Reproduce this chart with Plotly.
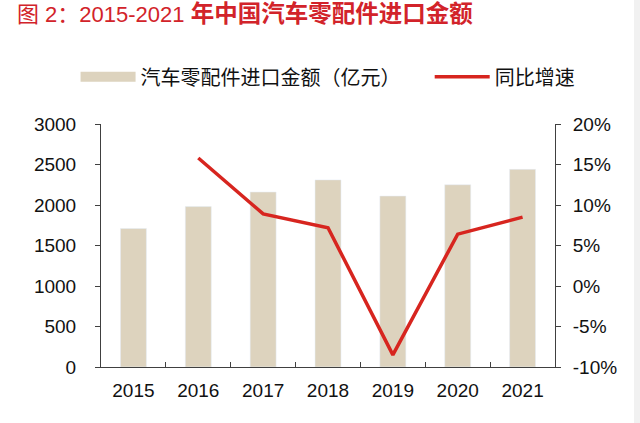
import plotly.graph_objects as go

# 2015-2021 auto parts imports (100m yuan) and YoY growth
years = ["2015", "2016", "2017", "2018", "2019", "2020", "2021"]
import_value = [1710, 1980, 2160, 2310, 2110, 2250, 2440]
yoy_growth = [None, 0.158, 0.089, 0.072, -0.085, 0.064, 0.085]

pct_ticks = [-0.10, -0.05, 0, 0.05, 0.10, 0.15, 0.20]
pct_labels = ["-10%", "-5%", "0%", "5%", "10%", "15%", "20%"]

bar_name = "汽车零配件进口金额（亿元）"
line_name = "同比增速"

BEIGE = "#ddd3be"
RED = "#d7251f"
AXIS = "#404040"
FONT = "Liberation Sans, Arial, Noto Sans CJK SC"

fig = go.Figure()

fig.add_trace(go.Bar(x=years, y=import_value, name=bar_name,
                     marker_color=BEIGE, showlegend=False))
fig.add_trace(go.Scatter(x=years, y=yoy_growth, name=line_name, yaxis="y2",
                         mode="lines", line=dict(color=RED, width=3.5),
                         showlegend=False))

# legend entries: wide flat swatches like the original, one legend each
fig.add_trace(go.Scatter(x=[None], y=[None], name=bar_name, mode="lines",
                         line=dict(color=BEIGE, width=10), legend="legend"))
fig.add_trace(go.Scatter(x=[None], y=[None], name=line_name, mode="lines",
                         line=dict(color=RED, width=3.5), legend="legend2"))

legend_style = dict(orientation="h", xanchor="left", y=1.194, yanchor="middle",
                    font=dict(family=FONT, size=20, color="#111111"),
                    itemwidth=55, bgcolor="rgba(0,0,0,0)")

fig.update_layout(
    width=640, height=423,
    margin=dict(l=101, r=85, t=124, b=56),
    paper_bgcolor="white", plot_bgcolor="white",
    font=dict(family=FONT, size=19, color="#111111"),
    bargap=0.6,
    title=dict(text="图 2：2015-2021 "
                    "<b><span style='font-size:23.5px'>年中国汽车零配件进口金额</span></b>",
               xref="container", x=17 / 640, xanchor="left",
               yref="container", y=1 - 14 / 423, yanchor="middle",
               font=dict(family=FONT, size=22, color="#d2232a")),
    legend=dict(x=-0.056, **legend_style),
    legend2=dict(x=0.724, **legend_style),
    xaxis=dict(type="category", showline=True, linecolor=AXIS, linewidth=1,
               ticks="inside", tickson="boundaries", ticklen=5, tickcolor=AXIS,
               showgrid=False, ticklabelstandoff=6),
    yaxis=dict(range=[0, 3000], dtick=500, showline=True, linecolor=AXIS,
               linewidth=1, ticks="outside", ticklen=5, tickcolor=AXIS,
               showgrid=False, zeroline=False, ticklabelstandoff=15),
    yaxis2=dict(range=[-0.10, 0.20], tickvals=pct_ticks, ticktext=pct_labels,
                overlaying="y", side="right", showline=True, linecolor=AXIS,
                linewidth=1, ticks="outside", ticklen=5, tickcolor=AXIS,
                showgrid=False, zeroline=False, ticklabelstandoff=8),
)

# faint grey strip along the right edge of the original image
fig.add_shape(type="rect", xref="paper", yref="paper",
              x0=(634 - 101) / 454, x1=(641 - 101) / 454, y0=-0.3, y1=1.6,
              fillcolor="#f1f1f1", line_width=0, layer="below")

# drop the browser's default 8px body margin so the figure sits at 0,0
fig.write_html("out.html", config={"displayModeBar": False},
               post_script="document.body.style.margin='0';")
